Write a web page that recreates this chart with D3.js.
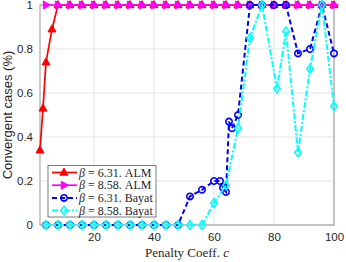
<!DOCTYPE html>
<html lang="en">
<head>
<meta charset="utf-8">
<style>
  body { margin: 0; background: #fff; }
  svg text { fill: #262626; }
  .tick text { font-family: "Liberation Sans", Arial, sans-serif; font-size: 11.5px; }
  .grid line { stroke: #e3e3e3; stroke-width: 1; }
  .serif { font-family: "Liberation Serif", "DejaVu Serif", serif; }
</style>
<script src="https://cdnjs.cloudflare.com/ajax/libs/d3/7.8.5/d3.min.js"></script>
</head>
<body>
<svg width="346" height="262"></svg>
<script>
// data
var xAlm631 = [2, 3, 4, 6, 8, 12, 16, 20, 24, 28, 32, 36, 40, 44, 48, 52, 56, 60, 64, 68, 72, 76, 80, 84, 88, 92, 96, 100];
var yAlm631 = [0.34, 0.53, 0.74, 0.89, 1, 1, 1, 1, 1, 1, 1, 1, 1, 1, 1, 1, 1, 1, 1, 1, 1, 1, 1, 1, 1, 1, 1, 1];

var xAlm858 = [4, 8, 12, 16, 20, 24, 28, 32, 36, 40, 44, 48, 52, 56, 60, 64, 68, 72, 76, 80, 84, 88, 92, 96, 100];
var yAlm858 = [1, 1, 1, 1, 1, 1, 1, 1, 1, 1, 1, 1, 1, 1, 1, 1, 1, 1, 1, 1, 1, 1, 1, 1, 1];

var xBayat631 = [4, 8, 12, 16, 20, 24, 28, 32, 36, 40, 44, 48, 52, 56, 60, 62, 63, 64, 65, 66, 68, 72, 76, 80, 84, 88, 92, 96, 100];
var yBayat631 = [0, 0, 0, 0, 0, 0, 0, 0, 0, 0, 0, 0, 0.13, 0.16, 0.2, 0.2, 0.17, 0.15, 0.47, 0.44, 0.5, 1, 1, 1, 1, 0.78, 0.8, 1, 0.78];

var xBayat858 = [4, 8, 12, 16, 20, 24, 28, 32, 36, 40, 44, 48, 52, 56, 60, 64, 68, 72, 76, 81, 84, 88, 92, 96, 100];
var yBayat858 = [0, 0, 0, 0, 0, 0, 0, 0, 0, 0, 0, 0, 0, 0, 0.1, 0.18, 0.44, 0.85, 1, 0.62, 0.88, 0.33, 0.71, 1, 0.54];

var xTicks = [20, 40, 60, 80, 100];
var yTicks = [0, 0.2, 0.4, 0.6, 0.8, 1];
var yTickLabels = ["0", "0.2", "0.4", "0.6", "0.8", "1"];

var series = [
  { beta: "6.31", name: "ALM",   xs: xAlm631,   ys: yAlm631,   color: "#ff0000", width: 1.7, dash: null,      marker: "up" },
  { beta: "8.58", name: "ALM",   xs: xAlm858,   ys: yAlm858,   color: "#ff00ff", width: 1.7, dash: null,      marker: "right" },
  { beta: "6.31", name: "Bayat", xs: xBayat631, ys: yBayat631, color: "#0000ff", width: 2,   dash: "5,3",     marker: "circle" },
  { beta: "8.58", name: "Bayat", xs: xBayat858, ys: yBayat858, color: "#00ffff", width: 2,   dash: "6,2,2,2", marker: "diamond" }
];

var svg = d3.select("svg"),
    margin = { left: 40, right: 12, top: 5, bottom: 37 },
    width = 346 - margin.left - margin.right,
    height = 262 - margin.top - margin.bottom;

var x = d3.scaleLinear().domain([2, 100]).range([0, width]);
var y = d3.scaleLinear().domain([0, 1]).range([height, 0]);

var g = svg.append("g").attr("transform", "translate(" + margin.left + "," + margin.top + ")");

// grid
g.append("g").attr("class", "grid")
  .selectAll("line.v").data(xTicks).enter().append("line")
    .attr("x1", function(d) { return x(d); }).attr("x2", function(d) { return x(d); })
    .attr("y1", 0).attr("y2", height);
g.select(".grid")
  .selectAll("line.h").data(yTicks).enter().append("line")
    .attr("y1", function(d) { return y(d); }).attr("y2", function(d) { return y(d); })
    .attr("x1", 0).attr("x2", width);

// box
g.append("rect").attr("width", width).attr("height", height)
  .attr("fill", "none").attr("stroke", "#7f7f7f").attr("stroke-width", 0.8);

var xAxis = g.append("g").attr("transform", "translate(0," + height + ")")
  .call(d3.axisBottom(x).tickValues(xTicks).tickSize(0).tickPadding(8));
var yAxis = g.append("g")
  .call(d3.axisLeft(y).tickValues(yTicks).tickSize(0).tickPadding(7)
    .tickFormat(function(d, i) { return yTickLabels[i]; }));
xAxis.select(".domain").remove();
yAxis.select(".domain").remove();

function markerPath(type) {
  if (type === "up") return "M0,-4.4L4,2.7L-4,2.7Z";
  if (type === "right") return "M4.4,0L-2.7,4L-2.7,-4Z";
  if (type === "diamond") return "M0,-4.3L3.2,0L0,4.3L-3.2,0Z";
  return d3.symbol().type(d3.symbolCircle).size(32)();
}

function drawMarker(sel, s) {
  var filled = s.marker === "up" || s.marker === "right";
  sel.append("path")
    .attr("d", markerPath(s.marker))
    .attr("fill", filled ? s.color : "none")
    .attr("stroke", s.color)
    .attr("stroke-width", filled ? 1 : 1.6);
}

var line = d3.line().x(function(d) { return x(d[0]); }).y(function(d) { return y(d[1]); });

series.forEach(function(s) {
  var pts = s.xs.map(function(v, i) { return [v, s.ys[i]]; });
  var sg = g.append("g");
  sg.append("path").datum(pts)
    .attr("d", line)
    .attr("fill", "none")
    .attr("stroke", s.color)
    .attr("stroke-width", s.width)
    .attr("stroke-dasharray", s.dash);
  sg.selectAll("g.m").data(pts).enter().append("g")
    .attr("transform", function(d) { return "translate(" + x(d[0]) + "," + y(d[1]) + ")"; })
    .each(function() { drawMarker(d3.select(this), s); });
});

// legend
var lg = svg.append("g").attr("transform", "translate(48,165.5)");
lg.append("rect").attr("width", 108).attr("height", 51.5)
  .attr("fill", "#fff").attr("stroke", "#262626").attr("stroke-width", 0.6);
series.forEach(function(s, i) {
  var row = lg.append("g").attr("transform", "translate(0," + (7 + i * 12.7) + ")");
  row.append("line").attr("x1", 4).attr("x2", 29)
    .attr("stroke", s.color).attr("stroke-width", s.width)
    .attr("stroke-dasharray", s.dash);
  drawMarker(row.append("g").attr("transform", "translate(16,0)"), s);
  var t = row.append("text").attr("class", "serif").attr("x", 31).attr("y", 4)
    .attr("font-size", "12px");
  t.append("tspan").attr("font-style", "italic").text("β");
  t.append("tspan").text(" = " + s.beta + ".  " + s.name);
});

// axis labels
svg.append("text").attr("class", "serif")
  .attr("x", margin.left + width / 2).attr("y", 257)
  .attr("text-anchor", "middle").attr("font-size", "13px")
  .call(function(t) {
    t.append("tspan").text("Penalty Coeff. ");
    t.append("tspan").attr("font-style", "italic").text("c");
  });

svg.append("text")
  .attr("transform", "translate(11.5," + (margin.top + height / 2) + ") rotate(-90)")
  .attr("text-anchor", "middle")
  .attr("font-family", "'Liberation Sans', Arial, sans-serif")
  .attr("font-size", "13px")
  .text("Convergent cases (%)");
</script>
</body>
</html>
